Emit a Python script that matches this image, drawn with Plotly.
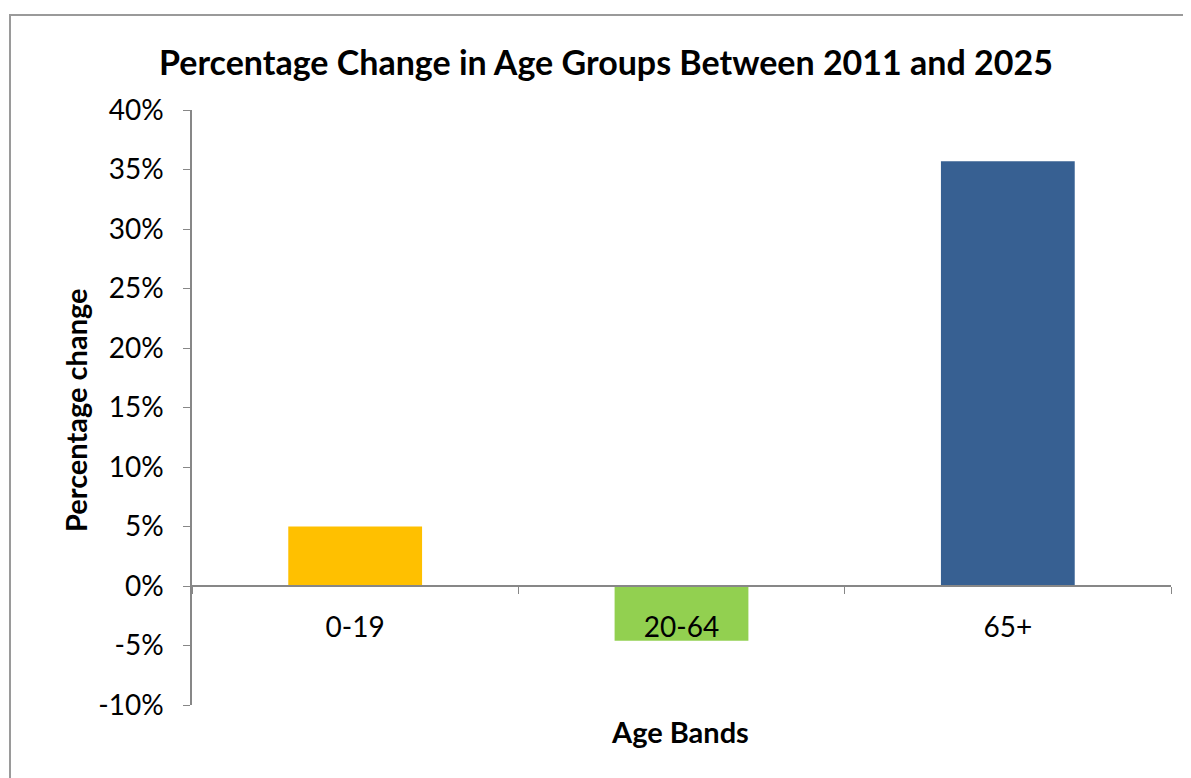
import plotly.graph_objects as go

categories = ["0-19", "20-64", "65+"]
values = [5.0, -4.6, 35.7]
colors = ["#FFC000", "#92D050", "#376092"]
y_tick_vals = [-10, -5, 0, 5, 10, 15, 20, 25, 30, 35, 40]
y_tick_text = ["-10%", "-5%", "0%", "5%", "10%", "15%", "20%", "25%", "30%", "35%", "40%"]

# page has an 8px body margin; work in page pixel coords and convert
OFF = 8
W, H = 1191 - OFF, 778 - OFF
PL, PR, PT, PB = 192, 1171, 110, 705   # plot area in page pixels
L, T = PL - OFF, PT - OFF
R, B = W - (PR - OFF), H - (PB - OFF)
pw, ph = PR - PL, PB - PT

def px_x(x):
    return (x - PL) / pw

def px_y(y):
    return (PB - y) / ph

fig = go.Figure()
fig.add_trace(go.Bar(x=categories, y=values, marker=dict(color=colors, line=dict(width=0)), width=0.41))

font = "Lato, 'Open Sans', sans-serif"
axis_col = "#878787"

fig.update_layout(
    width=W, height=H,
    margin=dict(l=L, r=R, t=T, b=B),
    paper_bgcolor="white", plot_bgcolor="white",
    showlegend=False,
    font=dict(family=font, color="black"),
    xaxis=dict(
        type="category", range=[-0.5, 2.5],
        anchor="free", position=0.2,
        showline=True, linecolor=axis_col, linewidth=1.5,
        ticks="outside", tickson="boundaries", ticklen=7, tickcolor=axis_col, tickwidth=1,
        tickfont=dict(size=28, family=font, color="black"),
        ticklabelstandoff=17,
        showgrid=False, zeroline=False,
    ),
    yaxis=dict(
        range=[-10, 40],
        tickvals=y_tick_vals, ticktext=y_tick_text,
        showline=True, linecolor=axis_col, linewidth=1.5,
        ticks="outside", ticklen=7, tickcolor=axis_col, tickwidth=1,
        tickfont=dict(size=28, family=font, color="black"),
        ticklabelstandoff=14,
        showgrid=False, zeroline=False,
    ),
)

fig.add_annotation(text="<b>Percentage Change in Age Groups Between 2011 and 2025</b>",
                   xref="paper", yref="paper", x=px_x(606), y=px_y(61),
                   xanchor="center", yanchor="middle", showarrow=False,
                   font=dict(size=34, family=font, color="black"))
fig.add_annotation(text="<b>Percentage change</b>",
                   xref="paper", yref="paper", x=px_x(75), y=px_y(410),
                   xanchor="center", yanchor="middle", showarrow=False, textangle=-90,
                   font=dict(size=29, family=font, color="black"))
fig.add_annotation(text="<b>Age Bands</b>",
                   xref="paper", yref="paper", x=px_x(680), y=px_y(731),
                   xanchor="center", yanchor="middle", showarrow=False,
                   font=dict(size=29, family=font, color="black"))

fig.add_shape(type="rect", xref="paper", yref="paper",
              x0=px_x(10), x1=px_x(1205), y0=px_y(15), y1=px_y(800),
              line=dict(color="#9a9a9a", width=2), fillcolor="rgba(0,0,0,0)", layer="below")

fig.write_html("out.html")
